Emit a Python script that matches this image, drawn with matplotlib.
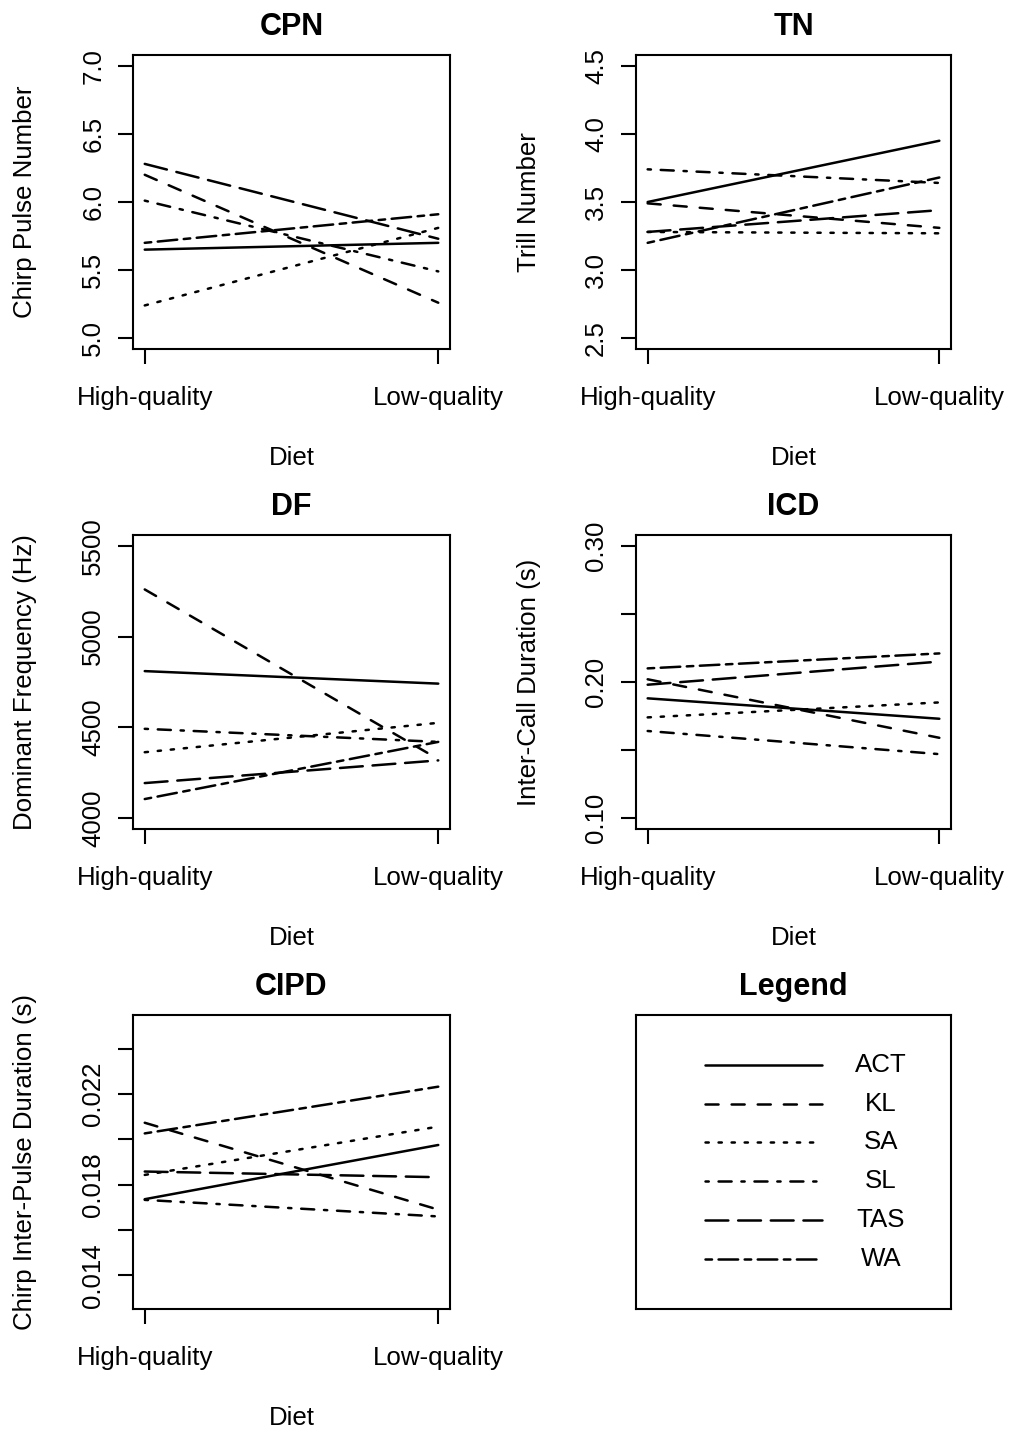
import numpy as np
import matplotlib
matplotlib.use('Agg')
import matplotlib.pyplot as plt

plt.rcParams['font.family'] = ['Liberation Sans', 'DejaVu Sans']
plt.rcParams['lines.scale_dashes'] = False

# data (group means)
groups = ['ACT', 'KL', 'SA', 'SL', 'TAS', 'WA']
diet = ['High-quality', 'Low-quality']

cpn_high = [5.65, 6.20, 5.24, 6.01, 6.28, 5.70]
cpn_low = [5.70, 5.26, 5.81, 5.49, 5.73, 5.91]
tn_high = [3.50, 3.49, 3.28, 3.74, 3.28, 3.20]
tn_low = [3.95, 3.31, 3.27, 3.64, 3.44, 3.68]
df_high = [4810, 5260, 4363, 4492, 4193, 4105]
df_low = [4741, 4325, 4525, 4420, 4318, 4420]
icd_high = [0.188, 0.202, 0.174, 0.164, 0.198, 0.210]
icd_low = [0.173, 0.159, 0.185, 0.147, 0.215, 0.221]
cipd_high = [0.01736, 0.02073, 0.01843, 0.01733, 0.01858, 0.02026]
cipd_low = [0.01975, 0.01690, 0.02056, 0.01660, 0.01833, 0.02232]

# R-like line types (lty 1..6), unit in points
u = 2.35
ltys = ['-',
        (0, (4*u, 4*u)),
        (0, (1*u, 3*u)),
        (0, (1*u, 3*u, 4*u, 3*u)),
        (0, (7*u, 3*u)),
        (0, (2*u, 2*u, 6*u, 2*u))]
LW = 1.8
FS = 18.6

W, H = 1014, 1431
fig = plt.figure(figsize=(W/100, H/100), dpi=100)

def axes_px(x0, y0, x1, y1):
    return fig.add_axes([x0/W, 1 - y1/H, (x1-x0)/W, (y1-y0)/H])

def rlim(lo, hi):
    pad = 0.04*(hi - lo)
    return lo - pad, hi + pad

def panel(ax, title, ylab, high, low, ylim, yticks, ylabels):
    x = np.array([1, 2])
    for i, g in enumerate(groups):
        ax.plot(x, [high[i], low[i]], color='black', lw=LW,
                linestyle=ltys[i], dash_capstyle='round', solid_capstyle='round')
    ax.set_xlim(rlim(1, 2))
    ax.set_ylim(rlim(*ylim))
    ax.set_xticks(x)
    ax.set_xticklabels(diet)
    ax.set_yticks(yticks)
    ax.set_yticklabels(ylabels, rotation=90, va='center')
    ax.tick_params(direction='out', length=11, width=1.5, labelsize=FS, color='black')
    ax.tick_params(axis='x', pad=15.5)
    ax.tick_params(axis='y', pad=9)
    for s in ax.spines.values():
        s.set_linewidth(1.5)
    ax.set_title(title, fontsize=22, fontweight='bold', pad=14.5)
    ax.set_ylabel(ylab, fontsize=FS, va='center')
    ax.yaxis.set_label_coords(-108/317, 0.5)
    ax.set_xlabel('Diet', fontsize=FS, va='center')
    ax.xaxis.set_label_coords(0.5, -109/294)

cols = [(133, 450), (636, 951)]
rows = [(55, 349), (535, 829), (1015, 1309)]

ax = axes_px(cols[0][0], rows[0][0], cols[0][1], rows[0][1])
panel(ax, 'CPN', 'Chirp Pulse Number', cpn_high, cpn_low, (5, 7),
      [5.0, 5.5, 6.0, 6.5, 7.0], ['5.0', '5.5', '6.0', '6.5', '7.0'])

ax = axes_px(cols[1][0], rows[0][0], cols[1][1], rows[0][1])
panel(ax, 'TN', 'Trill Number', tn_high, tn_low, (2.5, 4.5),
      [2.5, 3.0, 3.5, 4.0, 4.5], ['2.5', '3.0', '3.5', '4.0', '4.5'])

ax = axes_px(cols[0][0], rows[1][0], cols[0][1], rows[1][1])
panel(ax, 'DF', 'Dominant Frequency (Hz)', df_high, df_low, (4000, 5500),
      [4000, 4500, 5000, 5500], ['4000', '4500', '5000', '5500'])

ax = axes_px(cols[1][0], rows[1][0], cols[1][1], rows[1][1])
panel(ax, 'ICD', 'Inter-Call Duration (s)', icd_high, icd_low, (0.1, 0.3),
      [0.10, 0.15, 0.20, 0.25, 0.30], ['0.10', '', '0.20', '', '0.30'])

ax = axes_px(cols[0][0], rows[2][0], cols[0][1], rows[2][1])
panel(ax, 'CIPD', 'Chirp Inter-Pulse Duration (s)', cipd_high, cipd_low, (0.013, 0.025),
      [0.014, 0.016, 0.018, 0.020, 0.022, 0.024],
      ['0.014', '', '0.018', '', '0.022', ''])

# legend panel
lax = axes_px(cols[1][0], rows[2][0], cols[1][1], rows[2][1])
lax.set_xlim(0, 1)
lax.set_ylim(0, 1)
lax.set_xticks([])
lax.set_yticks([])
for s in lax.spines.values():
    s.set_linewidth(1.5)
lax.set_title('Legend', fontsize=22, fontweight='bold', pad=14.5)
for i, g in enumerate(groups):
    yy = 1 - (50 + 38.7*i)/294
    lax.plot([0.22, 0.59], [yy, yy], color='black', lw=LW, linestyle=ltys[i],
             dash_capstyle='round', solid_capstyle='round')
    lax.text(0.778, yy, g, fontsize=FS, ha='center', va='center')

fig.savefig('out.png', dpi=100)
